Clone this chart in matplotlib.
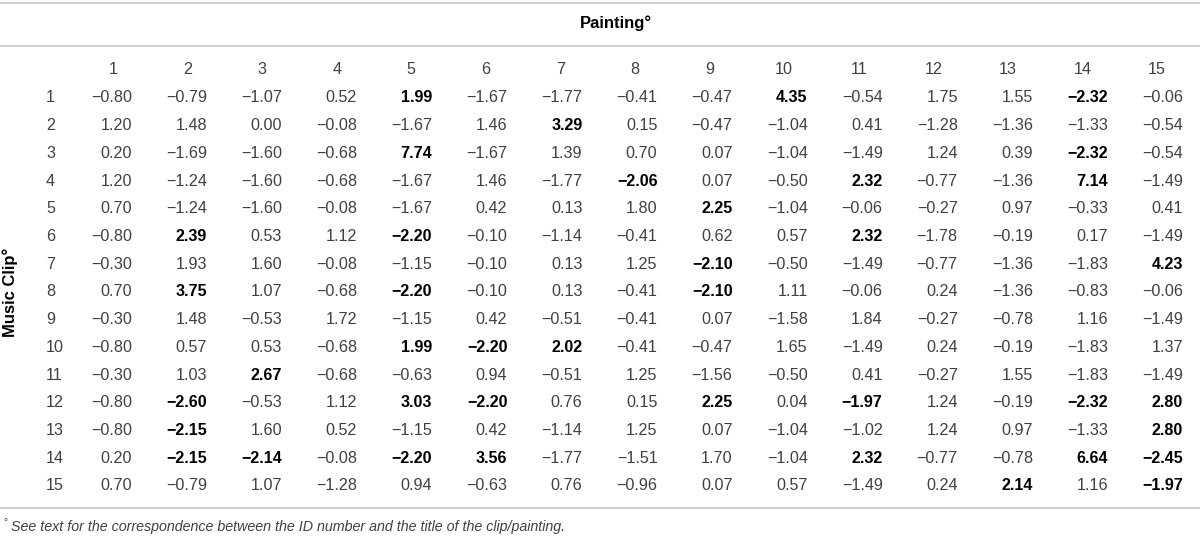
import numpy as np
import matplotlib
matplotlib.use("Agg")
import matplotlib.pyplot as plt

# z-scores: rows = music clips 1..15, columns = paintings 1..15
paintings = list(range(1, 16))
clips = list(range(1, 16))

z = np.array([
    [-0.80, -0.79, -1.07,  0.52,  1.99, -1.67, -1.77, -0.41, -0.47,  4.35, -0.54,  1.75,  1.55, -2.32, -0.06],
    [ 1.20,  1.48,  0.00, -0.08, -1.67,  1.46,  3.29,  0.15, -0.47, -1.04,  0.41, -1.28, -1.36, -1.33, -0.54],
    [ 0.20, -1.69, -1.60, -0.68,  7.74, -1.67,  1.39,  0.70,  0.07, -1.04, -1.49,  1.24,  0.39, -2.32, -0.54],
    [ 1.20, -1.24, -1.60, -0.68, -1.67,  1.46, -1.77, -2.06,  0.07, -0.50,  2.32, -0.77, -1.36,  7.14, -1.49],
    [ 0.70, -1.24, -1.60, -0.08, -1.67,  0.42,  0.13,  1.80,  2.25, -1.04, -0.06, -0.27,  0.97, -0.33,  0.41],
    [-0.80,  2.39,  0.53,  1.12, -2.20, -0.10, -1.14, -0.41,  0.62,  0.57,  2.32, -1.78, -0.19,  0.17, -1.49],
    [-0.30,  1.93,  1.60, -0.08, -1.15, -0.10,  0.13,  1.25, -2.10, -0.50, -1.49, -0.77, -1.36, -1.83,  4.23],
    [ 0.70,  3.75,  1.07, -0.68, -2.20, -0.10,  0.13, -0.41, -2.10,  1.11, -0.06,  0.24, -1.36, -0.83, -0.06],
    [-0.30,  1.48, -0.53,  1.72, -1.15,  0.42, -0.51, -0.41,  0.07, -1.58,  1.84, -0.27, -0.78,  1.16, -1.49],
    [-0.80,  0.57,  0.53, -0.68,  1.99, -2.20,  2.02, -0.41, -0.47,  1.65, -1.49,  0.24, -0.19, -1.83,  1.37],
    [-0.30,  1.03,  2.67, -0.68, -0.63,  0.94, -0.51,  1.25, -1.56, -0.50,  0.41, -0.27,  1.55, -1.83, -1.49],
    [-0.80, -2.60, -0.53,  1.12,  3.03, -2.20,  0.76,  0.15,  2.25,  0.04, -1.97,  1.24, -0.19, -2.32,  2.80],
    [-0.80, -2.15,  1.60,  0.52, -1.15,  0.42, -1.14,  1.25,  0.07, -1.04, -1.02,  1.24,  0.97, -1.33,  2.80],
    [ 0.20, -2.15, -2.14, -0.08, -2.20,  3.56, -1.77, -1.51,  1.70, -1.04,  2.32, -0.77, -0.78,  6.64, -2.45],
    [ 0.70, -0.79,  1.07, -1.28,  0.94, -0.63,  0.76, -0.96,  0.07,  0.57, -1.49,  0.24,  2.14,  1.16, -1.97],
])
crit = 1.96   # |z| above this is shown in bold

col_title = "Painting°"
row_title = "Music Clip°"
note = "See text for the correspondence between the ID number and the title of the clip/painting."

W, H = 1200, 537
fig = plt.figure(figsize=(W / 100, H / 100), dpi=100)
ax = fig.add_axes([0, 0, 1, 1])
ax.set_xlim(0, W)
ax.set_ylim(H, 0)
ax.axis("off")

font = "Liberation Sans"
fs = 11.6
grey = "#404040"
rule = "#cfcfcf"

# layout (pixels)
hdr_x0, hdr_dx = 113, 74.57
val_x0, val_dx = 132, 75.07
row_y0, row_dy = 98, 27.71
hdr_y = 70

for y in (3, 46, 508):
    ax.axhline(y, color=rule, lw=1.4)

ax.text(616, 23, col_title, fontfamily=font, fontsize=12, fontweight="bold",
        ha="center", va="center", color="black")
ax.text(10, row_y0 + row_dy * 7, row_title, fontfamily=font, fontsize=12,
        fontweight="bold", rotation=90, ha="center", va="center", color="black")

for j, p in enumerate(paintings):
    ax.text(hdr_x0 + j * hdr_dx, hdr_y, str(p), fontfamily=font, fontsize=fs,
            ha="center", va="center", color=grey)

for i, c in enumerate(clips):
    y = row_y0 + i * row_dy
    ax.text(46, y, str(c), fontfamily=font, fontsize=fs, ha="left",
            va="center", color=grey)
    for j in range(len(paintings)):
        v = z[i, j]
        s = f"{v:.2f}".replace("-", "\u2212")
        bold = abs(v) > crit
        ax.text(val_x0 + j * val_dx, y, s, fontfamily=font, fontsize=fs,
                fontweight="bold" if bold else "normal",
                color="black" if bold else grey, ha="right", va="center")

ax.text(3, 522, "°", fontfamily=font, fontsize=7.5, ha="left", va="center", color=grey)
ax.text(11, 527, note, fontfamily=font, fontsize=10.3, style="italic",
        ha="left", va="center", color=grey)

fig.savefig("out.png", dpi=100)
